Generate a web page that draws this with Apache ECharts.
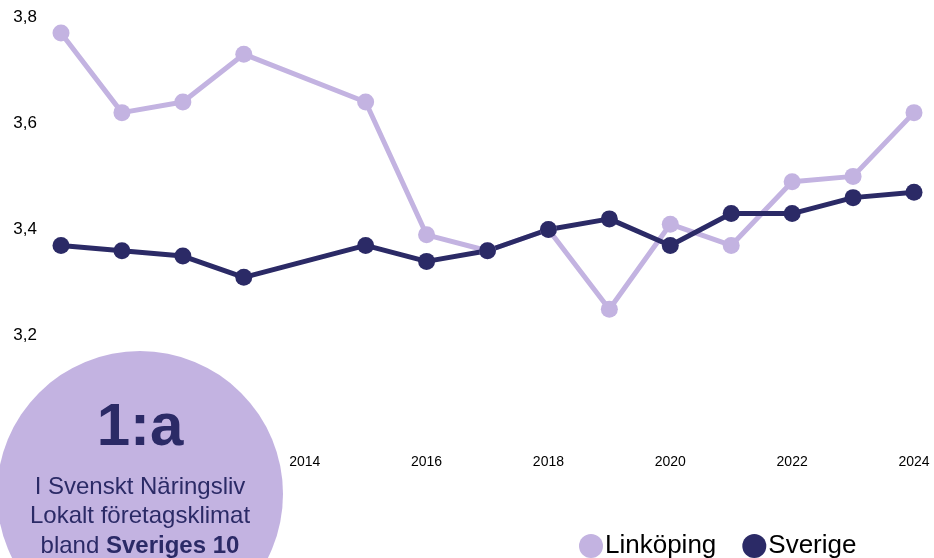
<!DOCTYPE html>
<html>
<head>
<meta charset="utf-8">
<script src="https://cdn.jsdelivr.net/npm/echarts@6/dist/echarts.min.js"></script>
<style>
  html, body { margin: 0; padding: 0; background: #fff; }
  #chart { width: 934px; height: 558px; }
</style>
</head>
<body>
<div id="chart"></div>
<script>
// years (2014 saknas i serien)
var years = [2010, 2011, 2012, 2013, 2015, 2016, 2017, 2018, 2019, 2020, 2021, 2022, 2023, 2024];
var linkoping = [3.77, 3.62, 3.64, 3.73, 3.64, 3.39, 3.36, 3.40, 3.25, 3.41, 3.37, 3.49, 3.50, 3.62];
var sverige = [3.37, 3.36, 3.35, 3.31, 3.37, 3.34, 3.36, 3.40, 3.42, 3.37, 3.43, 3.43, 3.46, 3.47];
var badgeLines = ["1:a", "I Svenskt Näringsliv", "Lokalt företagsklimat"];

var light = "#c3b3e1";
var dark = "#2b2a66";

function pairs(vals) {
  return years.map(function (y, i) { return [y, vals[i]]; });
}

var chart = echarts.init(document.getElementById("chart"));

chart.setOption({
  animation: false,
  textStyle: { fontFamily: "Liberation Sans, Arial, sans-serif" },
  grid: { left: 61, right: 20, top: 17, bottom: 116 },
  legend: {
    left: 574,
    top: 528,
    icon: "circle",
    itemWidth: 24,
    itemHeight: 24,
    itemGap: 26,
    textStyle: { fontSize: 26, color: "#000", padding: [0, 0, 0, -3] },
    data: ["Linköping", "Sverige"]
  },
  xAxis: {
    type: "value",
    min: 2010,
    max: 2024,
    interval: 2,
    axisLine: { show: false },
    axisTick: { show: false },
    splitLine: { show: false },
    axisLabel: {
      fontSize: 14,
      color: "#000",
      margin: 13,
      formatter: function (v) { return String(v); }
    }
  },
  yAxis: {
    type: "value",
    min: 3.0,
    max: 3.8,
    interval: 0.2,
    axisLine: { show: false },
    axisTick: { show: false },
    splitLine: { show: false },
    axisLabel: {
      fontSize: 17,
      color: "#000",
      margin: 24,
      formatter: function (v) {
        if (v === 3) return "";
        return v.toFixed(1).replace(".", ",");
      }
    }
  },
  series: [
    {
      name: "Linköping",
      type: "line",
      data: pairs(linkoping),
      symbol: "circle",
      symbolSize: 17,
      color: light,
      lineStyle: { width: 5, color: light }
    },
    {
      name: "Sverige",
      type: "line",
      data: pairs(sverige),
      symbol: "circle",
      symbolSize: 17,
      color: dark,
      lineStyle: { width: 5, color: dark }
    }
  ],
  graphic: [
    {
      type: "circle",
      z: 100,
      shape: { cx: 140, cy: 494, r: 143 },
      style: { fill: light }
    },
    {
      type: "text",
      z: 101,
      x: 140,
      y: 428,
      style: {
        text: badgeLines[0],
        fill: dark,
        font: "bold 60px Liberation Sans, Arial, sans-serif",
        align: "center",
        verticalAlign: "middle"
      }
    },
    {
      type: "text",
      z: 101,
      x: 140,
      y: 487,
      style: {
        text: badgeLines[1],
        fill: dark,
        font: "24px Liberation Sans, Arial, sans-serif",
        align: "center",
        verticalAlign: "middle"
      }
    },
    {
      type: "text",
      z: 101,
      x: 140,
      y: 516,
      style: {
        text: badgeLines[2],
        fill: dark,
        font: "24px Liberation Sans, Arial, sans-serif",
        align: "center",
        verticalAlign: "middle"
      }
    },
    {
      type: "text",
      z: 101,
      x: 140,
      y: 546,
      style: {
        text: "{n|bland }{b|Sveriges 10}",
        align: "center",
        verticalAlign: "middle",
        rich: {
          n: { fontSize: 24, fill: dark, fontFamily: "Liberation Sans, Arial, sans-serif" },
          b: { fontSize: 24, fontWeight: "bold", fill: dark, fontFamily: "Liberation Sans, Arial, sans-serif" }
        }
      }
    }
  ]
});
</script>
</body>
</html>
